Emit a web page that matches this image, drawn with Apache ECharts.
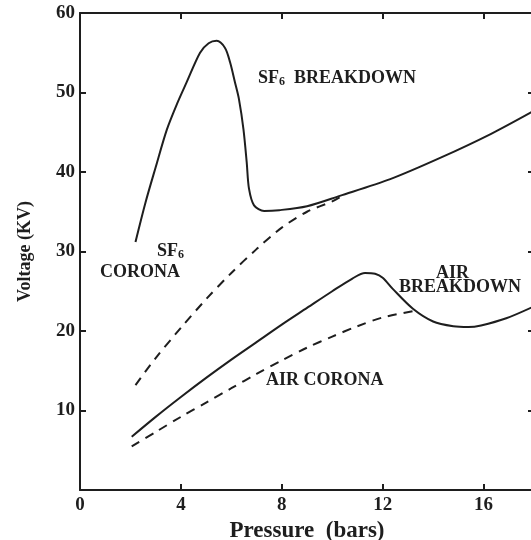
<!DOCTYPE html>
<html>
<head>
<meta charset="utf-8">
<script src="https://cdn.jsdelivr.net/npm/echarts@6/dist/echarts.min.js"></script>
<style>
  html, body { margin: 0; padding: 0; background: #fff; }
  #chart { width: 531px; height: 540px; }
</style>
</head>
<body>
<div id="chart"></div>
<script>
// pressure (bars) vs voltage (kV)
const sf6Breakdown = [
  [2.2, 31.2], [2.6, 36.2], [3.0, 40.6], [3.44, 45.3], [3.85, 48.6], [4.23, 51.3],
  [4.76, 55.0], [5.1, 56.2], [5.42, 56.5], [5.75, 55.6], [5.95, 53.8], [6.15, 51.2],
  [6.3, 49.2], [6.48, 45.4], [6.61, 41.2], [6.7, 37.9], [6.9, 35.8], [7.3, 35.1],
  [7.9, 35.2], [9.0, 35.7], [10.3, 37.0], [12.3, 39.1], [14.3, 41.8], [16.3, 44.8], [18.0, 47.7]
];
const sf6Corona = [
  [2.2, 13.2], [3.0, 16.6], [4.0, 20.4], [5.0, 24.0], [6.0, 27.3], [7.0, 30.3],
  [8.0, 33.0], [9.0, 35.0], [10.0, 36.3], [10.5, 37.2]
];
const airBreakdown = [
  [2.05, 6.7], [3.0, 9.2], [4.0, 11.7], [5.0, 14.1], [6.0, 16.4], [7.0, 18.6],
  [8.0, 20.8], [9.0, 22.9], [10.0, 25.0], [10.8, 26.6], [11.3, 27.3], [11.7, 27.2],
  [12.0, 26.7], [12.4, 25.3], [13.2, 22.8], [14.0, 21.2], [14.8, 20.6], [15.4, 20.5],
  [15.9, 20.7], [16.9, 21.6], [18.0, 23.1]
];
const airCorona = [
  [2.05, 5.5], [3.0, 7.3], [4.0, 9.2], [5.0, 11.0], [6.0, 12.8], [7.0, 14.6],
  [8.0, 16.3], [9.0, 17.9], [10.0, 19.3], [11.0, 20.6], [12.0, 21.7], [13.2, 22.5]
];

const serif = "'Liberation Serif', 'Times New Roman', serif";
const ink = '#1e1e1e';

const chart = echarts.init(document.getElementById('chart'));

function curve(name, data, dashed) {
  return {
    name,
    type: 'line',
    data,
    showSymbol: false,
    silent: true,
    smooth: 0.3,
    lineStyle: { color: ink, width: 2, type: dashed ? [9, 7] : 'solid' }
  };
}

function frameAxis(extra) {
  return Object.assign({
    type: 'value',
    axisLine: { show: true, onZero: false, lineStyle: { color: ink, width: 2 } },
    axisTick: { show: true, inside: true, length: 6, lineStyle: { color: ink, width: 2 } },
    splitLine: { show: false },
    axisLabel: { show: false }
  }, extra);
}

const tickLabel = { color: ink, fontFamily: serif, fontWeight: 'bold', fontSize: 19 };
const nameStyle = { color: ink, fontFamily: serif, fontWeight: 'bold', fontSize: 23 };

const note = { fontFamily: serif, fontWeight: 'bold', fontSize: 18, fill: ink, lineHeight: 20 };
const sub = { fontFamily: serif, fontWeight: 'bold', fontSize: 12, fill: ink, padding: [8, 0, 0, 0], verticalAlign: 'bottom' };

chart.setOption({
  animation: false,
  backgroundColor: '#fff',
  grid: { left: 80, top: 13, width: 454, bottom: 50, outerBoundsMode: 'none', containLabel: false },
  xAxis: [
    frameAxis({
      min: 0, max: 18, interval: 4, position: 'bottom',
      axisLabel: Object.assign({ show: true, margin: 6, showMaxLabel: false }, tickLabel),
      name: 'Pressure  (bars)', nameLocation: 'middle', nameGap: 26, nameTextStyle: nameStyle
    }),
    frameAxis({ min: 0, max: 18, interval: 4, position: 'top' })
  ],
  yAxis: [
    frameAxis({
      min: 0, max: 60, interval: 10, position: 'left',
      axisLabel: Object.assign({ show: true, margin: 5, showMinLabel: false }, tickLabel),
      name: 'Voltage (KV)', nameLocation: 'middle', nameGap: 46,
      nameTextStyle: Object.assign({}, nameStyle, { fontSize: 18 })
    }),
    frameAxis({ min: 0, max: 60, interval: 10, position: 'right' })
  ],
  series: [
    curve('SF6 breakdown', sf6Breakdown, false),
    curve('SF6 corona', sf6Corona, true),
    curve('Air breakdown', airBreakdown, false),
    curve('Air corona', airCorona, true)
  ],
  graphic: [
    { type: 'text', left: 258, top: 69, style: { text: '{a|SF}{s|6}{a|  BREAKDOWN}', rich: { a: note, s: sub } } },
    { type: 'text', left: 157, top: 242, style: { text: '{a|SF}{s|6}', rich: { a: note, s: sub } } },
    { type: 'text', left: 100, top: 262, style: Object.assign({ text: 'CORONA' }, note) },
    { type: 'text', left: 436, top: 263, style: Object.assign({ text: 'AIR' }, note) },
    { type: 'text', left: 399, top: 277, style: Object.assign({ text: 'BREAKDOWN' }, note) },
    { type: 'text', left: 266, top: 370, style: Object.assign({ text: 'AIR CORONA' }, note) }
  ]
});
</script>
</body>
</html>
